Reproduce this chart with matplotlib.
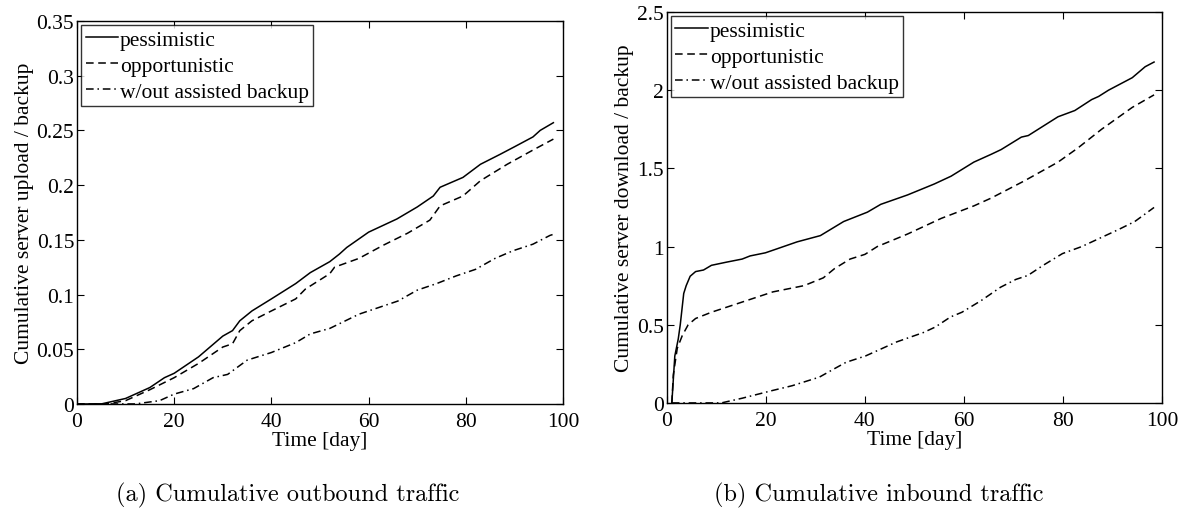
import matplotlib.pyplot as plt

plt.rcParams['font.family'] = ['Liberation Serif', 'DejaVu Serif']
plt.rcParams['mathtext.fontset'] = 'stix'

# (a) cumulative server upload / backup
out_pess_t = [0, 5, 8, 10, 13, 15, 18, 20, 25, 30, 32, 33.5, 36, 40, 45, 48, 52, 54,
              55.5, 60, 65.8, 70, 73.3, 74.7, 79.4, 83, 87, 90, 93.8, 95.3, 98]
out_pess = [0, 0, 0.003, 0.005, 0.011, 0.015, 0.024, 0.028, 0.043, 0.062, 0.067, 0.076,
            0.085, 0.096, 0.11, 0.12, 0.13, 0.137, 0.143, 0.157, 0.169, 0.18, 0.19, 0.198,
            0.207, 0.219, 0.228, 0.235, 0.244, 0.25, 0.257]
out_opp_t = [0, 6, 10, 15, 20, 25, 30, 32, 33.5, 36, 40, 45, 47, 52, 53, 58, 63, 68,
             72.6, 74.7, 79.4, 83, 88.5, 93.8, 98]
out_opp = [0, 0, 0.003, 0.013, 0.024, 0.037, 0.052, 0.055, 0.067, 0.076, 0.085, 0.096,
           0.105, 0.119, 0.125, 0.133, 0.145, 0.156, 0.168, 0.181, 0.19, 0.204, 0.219,
           0.232, 0.242]
out_none_t = [0, 12, 17, 20, 24, 28, 31, 35, 40, 45, 48, 52, 58, 62, 66, 70, 74, 78,
              82, 86, 89.7, 93.8, 97.3, 98]
out_none = [0, 0, 0.003, 0.009, 0.014, 0.024, 0.027, 0.04, 0.047, 0.056, 0.064, 0.069,
            0.082, 0.088, 0.094, 0.104, 0.11, 0.117, 0.123, 0.133, 0.14, 0.146, 0.154,
            0.155]

# (b) cumulative server download / backup
in_pess_t = [1, 1.6, 2.3, 2.7, 3.4, 3.9, 4.7, 5.8, 7.4, 9, 12, 15.2, 16.8, 19.9, 22.2,
             26.3, 31, 35.7, 40.5, 43.2, 48.6, 54, 57.4, 62, 65.5, 67.5, 71.6, 73, 79,
             82.4, 85.8, 87.2, 89.2, 94, 96.6, 98.4]
in_pess = [0, 0.30, 0.41, 0.5, 0.70, 0.75, 0.81, 0.84, 0.85, 0.88, 0.90, 0.92, 0.94,
           0.96, 0.985, 1.03, 1.07, 1.16, 1.22, 1.27, 1.33, 1.40, 1.45, 1.54, 1.59, 1.62,
           1.70, 1.71, 1.83, 1.87, 1.94, 1.96, 2.0, 2.08, 2.15, 2.18]
in_opp_t = [1, 1.3, 2.1, 3.1, 4.3, 5.8, 9, 15.2, 21.4, 27.7, 31.6, 33.9, 37, 40, 42.5,
            48.6, 55.4, 62, 65.5, 72.2, 79, 83, 87.8, 94, 98.4]
in_opp = [0, 0.18, 0.35, 0.43, 0.50, 0.54, 0.58, 0.645, 0.71, 0.75, 0.80, 0.86, 0.92,
          0.95, 1.0, 1.08, 1.18, 1.26, 1.31, 1.42, 1.54, 1.63, 1.75, 1.89, 1.97]
in_none_t = [1, 11, 15.2, 21.4, 25.3, 30.8, 33.9, 36.2, 40.1, 46.4, 51.8, 54.2, 57.3,
             59.6, 63.5, 67.4, 70.5, 72.9, 76, 79.9, 83.8, 91.3, 94.5, 98.4]
in_none = [0, 0, 0.03, 0.08, 0.11, 0.165, 0.22, 0.26, 0.30, 0.39, 0.45, 0.485, 0.55,
           0.58, 0.655, 0.74, 0.79, 0.815, 0.88, 0.955, 1.0, 1.11, 1.16, 1.25]

labels = ['pessimistic', 'opportunistic', 'w/out assisted backup']
fs = 15.5

fig = plt.figure(figsize=(11.93, 5.10), dpi=100)
ax1 = fig.add_axes([0.0645, 0.206, 0.4075, 0.751])
ax2 = fig.add_axes([0.559, 0.208, 0.415, 0.7665])


def draw(ax, series, ymax, yticks, yticklabels, ylabel):
    styles = [dict(linestyle='-'),
              dict(dashes=(5, 3)),
              dict(dashes=(5, 2.5, 1, 2.5))]
    for (t, v), st, lab in zip(series, styles, labels):
        ax.plot(t, v, color='black', linewidth=1.1, label=lab, **st)
    ax.set_xlim(0, 100)
    ax.set_ylim(0, ymax)
    ax.set_xticks([0, 20, 40, 60, 80, 100])
    ax.set_yticks(yticks)
    ax.set_yticklabels(yticklabels)
    ax.tick_params(direction='in', top=True, right=True, length=5, width=0.8,
                   labelsize=fs)
    ax.tick_params(axis='x', pad=6)
    ax.tick_params(axis='y', pad=2)
    for sp in ax.spines.values():
        sp.set_linewidth(1.0)
    ax.set_xlabel('Time [day]', fontsize=fs, labelpad=0)
    ax.set_ylabel(ylabel, fontsize=fs, labelpad=2)
    leg = ax.legend(loc='upper left', fontsize=fs, frameon=True, fancybox=False,
                    handlelength=1.5, handletextpad=0.1, labelspacing=0.28,
                    borderpad=0.2, borderaxespad=0.2)
    leg.get_frame().set_edgecolor('black')
    leg.get_frame().set_linewidth(1.0)


draw(ax1, [(out_pess_t, out_pess), (out_opp_t, out_opp), (out_none_t, out_none)],
     0.35, [0, 0.05, 0.1, 0.15, 0.2, 0.25, 0.3, 0.35],
     ['0', '0.05', '0.1', '0.15', '0.2', '0.25', '0.3', '0.35'],
     'Cumulative server upload / backup')
draw(ax2, [(in_pess_t, in_pess), (in_opp_t, in_opp), (in_none_t, in_none)],
     2.5, [0, 0.5, 1, 1.5, 2, 2.5],
     ['0', '0.5', '1', '1.5', '2', '2.5'],
     'Cumulative server download / backup')

fig.text(288 / 1193, 1 - 495 / 510, '(a) Cumulative outbound traffic',
         family='cmr10', fontsize=17.5, ha='center', va='center')
fig.text(879 / 1193, 1 - 495 / 510, '(b) Cumulative inbound traffic',
         family='cmr10', fontsize=17.5, ha='center', va='center')

fig.savefig('out.png', dpi=100)
